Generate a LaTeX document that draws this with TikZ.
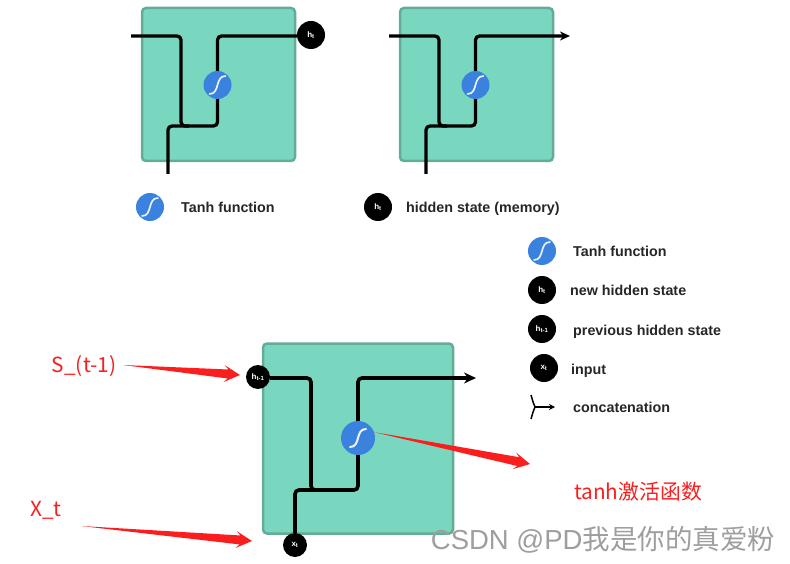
\documentclass[tikz,border=0pt]{standalone}
\usepackage{fontspec}
\setmainfont{Liberation Sans}
\newfontfamily\cjkfont{Noto Sans CJK SC}
\usetikzlibrary{arrows.meta,calc}
\tikzset{
	cellbox/.style={draw=cellborder, fill=cellgreen, line width=2.5pt, rounded corners=4pt, minimum size=#1, inner sep=0pt},
	wire/.style={black, line width=3.3pt, rounded corners=4pt},
	tanhfunc/.style={circle, fill=tanhblue, minimum size=#1, inner sep=0pt,
		path picture={\draw[white!90!tanhblue, line width=#1*0.06, line cap=round, shift={(path picture bounding box.center)}, scale=#1/34]
			(-8,9) .. controls (3,9) and (-3,-9) .. (8,-9);}},
	statedot/.style={circle, fill=black, text=white, minimum size=#1, inner sep=0pt, font=\bfseries\fontsize{8}{9}\selectfont},
	legendtext/.style={anchor=west, inner sep=0pt, text height=14pt, text depth=3pt, font=\bfseries\fontsize{14.3}{16}\selectfont, text=black!85},
	redlabel/.style={text=annotred, font=\cjkfont\fontsize{20.8}{24}\selectfont}
}
\newcommand{\taperarrow}[2]{%
	\fill[annotred] (#1) -- ($(#2)!12pt!(#1)!4.5pt!90:(#2)$) -- ($(#2)!16pt!(#1)!8.5pt!90:(#2)$) -- (#2)
		-- ($(#2)!16pt!(#1)!8.5pt!-90:(#2)$) -- ($(#2)!12pt!(#1)!4.5pt!-90:(#2)$) -- cycle;}
\begin{document}
\begin{tikzpicture}[x=1pt, y=-1pt, >=stealth]
	\definecolor{cellgreen}{RGB}{122, 215, 191}
	\definecolor{cellborder}{RGB}{98, 172, 152}
	\definecolor{tanhblue}{RGB}{58, 130, 222}
	\definecolor{annotred}{RGB}{250, 30, 30}
	\useasboundingbox (0,0) rectangle (790,564);

	% top left cell
	\node[cellbox=153pt] (cellA) at (218.5,84.5) {};
	\node[tanhfunc=28pt] (tanhA) at (217.5,85) {};
	\node[statedot=28pt] (hA) at (311,35) {h\textsubscript{t}};
	\coordinate (inA) at (131,36);
	\coordinate (joinA) at (181,126);
	\coordinate (xA) at (168,174);
	\draw[wire] (inA) -| (joinA) -- ++(8,0);
	\draw[wire] (xA) |- (tanhA.south |- joinA) -- (tanhA.south);
	\draw[wire] (tanhA.north) |- (hA.west |- inA);

	% top right cell
	\node[cellbox=153pt] (cellB) at (476.5,84.5) {};
	\node[tanhfunc=28pt] (tanhB) at (475.5,85) {};
	\coordinate (inB) at (389,36);
	\coordinate (joinB) at (439,126);
	\coordinate (xB) at (426,174);
	\coordinate (outB) at (570,36);
	\draw[wire] (inB) -| (joinB) -- ++(8,0);
	\draw[wire] (xB) |- (tanhB.south |- joinB) -- (tanhB.south);
	\draw[wire, -{Stealth[length=10pt,width=9pt]}] (tanhB.north) |- (outB);

	% legend under top cells
	\node[tanhfunc=28pt] (keyA) at (150,207) {};
	\node[legendtext] (keyAtext) at (181,207) {Tanh function};
	\node[statedot=28pt] (keyB) at (378,207) {h\textsubscript{t}};
	\node[legendtext] (keyBtext) at (406,207) {hidden state (memory)};

	% right legend
	\node[tanhfunc=28pt] (keyC) at (542,251) {};
	\node[legendtext] (keyCtext) at (573,251) {Tanh function};
	\node[statedot=28pt] (keyD) at (542,290) {h\textsubscript{t}};
	\node[legendtext] (keyDtext) at (570,290) {new hidden state};
	\node[statedot=28pt] (keyE) at (542,329) {h\textsubscript{t-1}};
	\node[legendtext] (keyEtext) at (573,330) {previous hidden state};
	\node[statedot=28pt] (keyF) at (544,368) {x\textsubscript{t}};
	\node[legendtext] (keyFtext) at (571,369) {input};
	\coordinate (conUp) at (531,395);
	\coordinate (conDown) at (531,419);
	\coordinate (conMid) at (535,407);
	\coordinate (conTip) at (555,407);
	\draw[black, line width=1.5pt] (conUp) .. controls (533,402) .. (conMid) .. controls (533,412) .. (conDown);
	\draw[black, line width=1.5pt, -{Stealth[length=6pt,width=6pt]}] (conMid) -- (conTip);
	\node[legendtext] (keyGtext) at (573,407) {concatenation};

	% bottom cell
	\node[cellbox=190pt] (cellC) at (358,438.5) {};
	\node[tanhfunc=34pt] (tanhC) at (358,438) {};
	\node[statedot=24pt] (hC) at (258,377) {h\textsubscript{t-1}};
	\node[statedot=24pt] (xC) at (295,545) {x\textsubscript{t}};
	\coordinate (joinC) at (311,490);
	\coordinate (outC) at (476,378);
	\draw[wire, line width=3.6pt] (hC.east |- outC) -| (joinC) -- ++(8,0);
	\draw[wire, line width=3.6pt] (xC.north) |- (tanhC.south |- joinC) -- (tanhC.south);
	\draw[wire, line width=3.6pt, -{Stealth[length=12pt,width=11pt]}] (tanhC.north) |- (outC);

	% red notes
	\node[redlabel] (noteS) at (84,366) {S\_(t-1)};
	\node[redlabel] (noteX) at (46,510) {X\_t};
	\node[redlabel] (noteT) at (638,492) {tanh激活函数};
	\coordinate (noteSend) at (123,365);
	\coordinate (noteXend) at (81,526);
	\coordinate (tipS) at (240,375);
	\coordinate (tipX) at (252,541);
	\coordinate (tipT) at (530,464);
	\taperarrow{noteSend}{tipS}
	\taperarrow{noteXend}{tipX}
	\taperarrow{tanhC.20}{tipT}

	% watermark
	\node[text=black!38, font=\fontsize{27.5}{30}\selectfont] (mark) at (603,540) {CSDN @PD{\cjkfont 我是你的真爱粉}};
\end{tikzpicture}
\end{document}
